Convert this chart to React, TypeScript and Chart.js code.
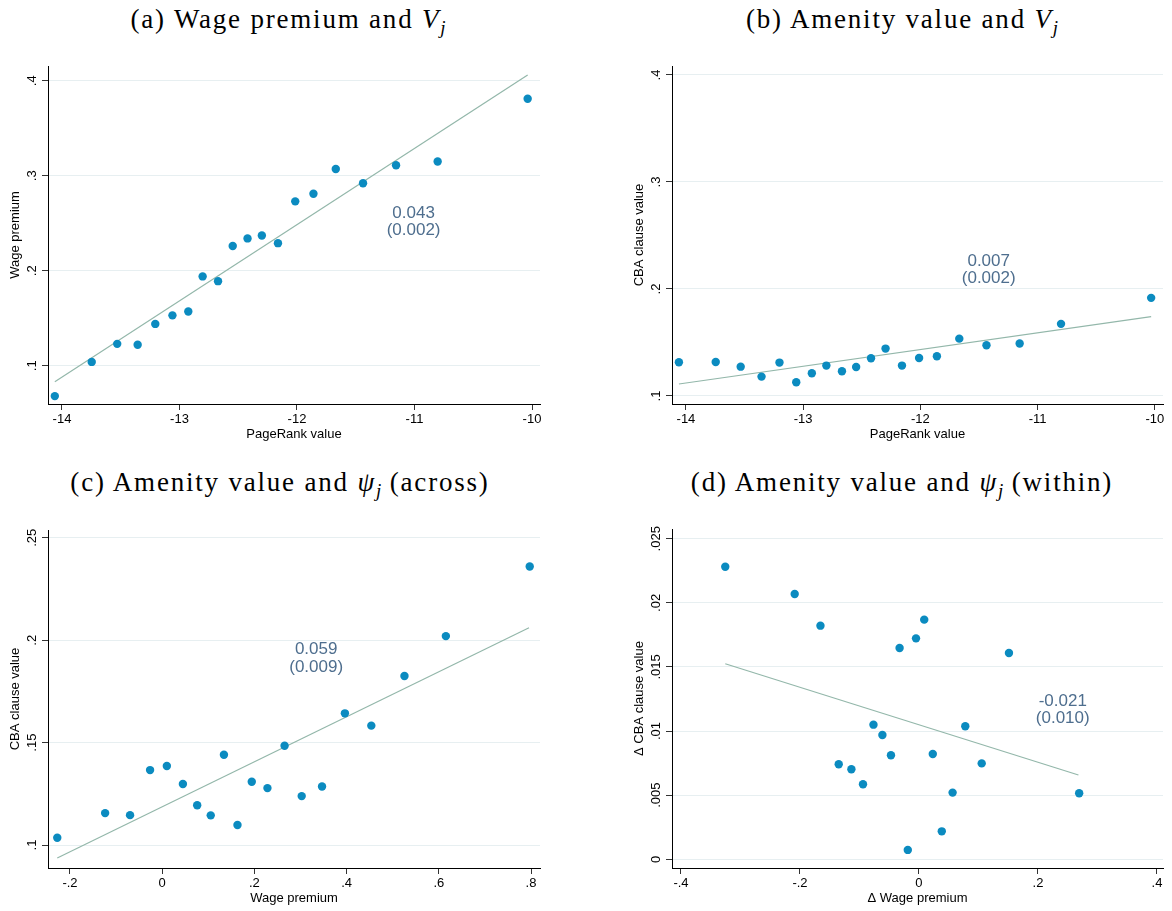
import React, { useEffect, useRef } from "react";
import { Chart, registerables } from "chart.js";
Chart.register(...registerables);

// ---------- Panel (a): Wage premium vs PageRank ----------
const aX = [-14.061, -13.747, -13.53, -13.356, -13.206, -13.06, -12.925, -12.803, -12.672, -12.547, -12.421, -12.299, -12.162, -12.015, -11.86, -11.67, -11.438, -11.157, -10.803, -10.037];
const aY = [0.068, 0.104, 0.123, 0.122, 0.144, 0.153, 0.157, 0.194, 0.189, 0.226, 0.234, 0.237, 0.229, 0.273, 0.281, 0.307, 0.292, 0.311, 0.315, 0.381];
const aFitX = [-14.061, -10.037];
const aFitY = [0.0832, 0.406];
const aXTicks = [-14, -13, -12, -11, -10];
const aXLabels = ["-14", "-13", "-12", "-11", "-10"];
const aYTicks = [0.1, 0.2, 0.3, 0.4];
const aYLabels = [".1", ".2", ".3", ".4"];
const aNote = ["0.043", "(0.002)"];
const aNoteX = -11.008;
const aNoteY = [0.2604, 0.2428];

// ---------- Panel (b): CBA clause value vs PageRank ----------
const bX = [-14.06, -13.746, -13.533, -13.355, -13.202, -13.059, -12.926, -12.802, -12.669, -12.548, -12.421, -12.297, -12.157, -12.011, -11.859, -11.668, -11.436, -11.153, -10.8, -10.031];
const bY = [0.1315, 0.1318, 0.1274, 0.1181, 0.1312, 0.1128, 0.1212, 0.1284, 0.1231, 0.1271, 0.1352, 0.1443, 0.1284, 0.1355, 0.1371, 0.1536, 0.1474, 0.149, 0.1674, 0.1917];
const bFitX = [-14.06, -10.031];
const bFitY = [0.1112, 0.1742];
const bXTicks = [-14, -13, -12, -11, -10];
const bXLabels = ["-14", "-13", "-12", "-11", "-10"];
const bYTicks = [0.1, 0.2, 0.3, 0.4];
const bYLabels = [".1", ".2", ".3", ".4"];
const bNote = ["0.007", "(0.002)"];
const bNoteX = -11.417;
const bNoteY = [0.2257, 0.2098];

// ---------- Panel (c): CBA clause value vs wage premium (across) ----------
const cX = [-0.2276, -0.1238, -0.0697, -0.0263, 0.0101, 0.0449, 0.0759, 0.1053, 0.1339, 0.1633, 0.1943, 0.2283, 0.2655, 0.3026, 0.3467, 0.3963, 0.4536, 0.5255, 0.6153, 0.7972];
const cY = [0.1036, 0.1156, 0.1146, 0.1366, 0.1386, 0.1298, 0.1194, 0.1145, 0.1441, 0.1098, 0.1309, 0.1278, 0.1485, 0.1239, 0.1286, 0.1643, 0.1583, 0.1825, 0.202, 0.236];
const cFitX = [-0.2276, 0.7957];
const cFitY = [0.0937, 0.2061];
const cXTicks = [-0.2, 0, 0.2, 0.4, 0.6, 0.8];
const cXLabels = ["-.2", "0", ".2", ".4", ".6", ".8"];
const cYTicks = [0.1, 0.15, 0.2, 0.25];
const cYLabels = [".1", ".15", ".2", ".25"];
const cNote = ["0.059", "(0.009)"];
const cNoteX = 0.334;
const cNoteY = [0.1955, 0.1867];

// ---------- Panel (d): changes (within) ----------
const dX = [-0.3256, -0.2089, -0.1656, -0.1349, -0.1136, -0.0941, -0.0765, -0.0615, -0.0471, -0.0326, -0.0188, -0.005, 0.0088, 0.0232, 0.0383, 0.0565, 0.0778, 0.1054, 0.1512, 0.2692];
const dY = [0.02282, 0.02069, 0.01822, 0.00741, 0.00702, 0.00585, 0.0105, 0.00969, 0.00811, 0.01648, 0.00073, 0.01723, 0.01869, 0.00821, 0.00218, 0.0052, 0.01037, 0.00748, 0.01609, 0.00515];
const dFitX = [-0.3256, 0.268];
const dFitY = [0.01525, 0.00657];
const dXTicks = [-0.4, -0.2, 0, 0.2, 0.4];
const dXLabels = ["-.4", "-.2", "0", ".2", ".4"];
const dYTicks = [0, 0.005, 0.01, 0.015, 0.02, 0.025];
const dYLabels = ["0", ".005", ".01", ".015", ".02", ".025"];
const dNote = ["-0.021", "(0.010)"];
const dNoteX = 0.2416;
const dNoteY = [0.01234, 0.01102];

const DOT = "#0b8bc0";
const FIT = "#93b7aa";
const NOTE = "#4e6e8e";
const GRID = "#e7eff1";
const SANS = '"Liberation Sans", Arial, sans-serif';

const Y_AXIS_W = 48;
const X_AXIS_H = 38;
const PAD_T = 10;
const PAD_R = 15;
const PAD_B = 4;

type PanelDef = {
  xs: number[]; ys: number[]; fitX: number[]; fitY: number[];
  xTicks: number[]; xLabels: string[]; yTicks: number[]; yLabels: string[];
  note: string[]; noteX: number; noteY: number[];
  xTitle: string; yTitle: string;
  xMin: number; xMax: number; yMin: number; yMax: number;
  cl: number; ct: number; cr: number; cb: number;
};

const panels: PanelDef[] = [
  { xs: aX, ys: aY, fitX: aFitX, fitY: aFitY, xTicks: aXTicks, xLabels: aXLabels, yTicks: aYTicks, yLabels: aYLabels,
    note: aNote, noteX: aNoteX, noteY: aNoteY, xTitle: "PageRank value", yTitle: "Wage premium",
    xMin: -14.119, xMax: -9.932, yMin: 0.0597, yMax: 0.4155, cl: 48, ct: 66, cr: 540, cb: 404 },
  { xs: bX, ys: bY, fitX: bFitX, fitY: bFitY, xTicks: bXTicks, xLabels: bXLabels, yTicks: bYTicks, yLabels: bYLabels,
    note: bNote, noteX: bNoteX, noteY: bNoteY, xTitle: "PageRank value", yTitle: "CBA clause value",
    xMin: -14.119, xMax: -9.93, yMin: 0.0925, yMax: 0.4084, cl: 672, ct: 66, cr: 1163, cb: 404 },
  { xs: cX, ys: cY, fitX: cFitX, fitY: cFitY, xTicks: cXTicks, xLabels: cXLabels, yTicks: cYTicks, yLabels: cYLabels,
    note: cNote, noteX: cNoteX, noteY: cNoteY, xTitle: "Wage premium", yTitle: "CBA clause value",
    xMin: -0.2477, xMax: 0.8195, yMin: 0.0888, yMax: 0.2538, cl: 48, ct: 530, cr: 540, cb: 868 },
  { xs: dX, ys: dY, fitX: dFitX, fitY: dFitY, xTicks: dXTicks, xLabels: dXLabels, yTicks: dYTicks, yLabels: dYLabels,
    note: dNote, noteX: dNoteX, noteY: dNoteY, xTitle: "Δ Wage premium", yTitle: "Δ CBA clause value",
    xMin: -0.4151, xMax: 0.4101, yMin: -0.00068, yMax: 0.02576, cl: 672, ct: 529, cr: 1163, cb: 868 },
];

function labelFor(ticks: number[], labels: string[], v: number) {
  let best = 0;
  for (let i = 1; i < ticks.length; i++) if (Math.abs(ticks[i] - v) < Math.abs(ticks[best] - v)) best = i;
  return labels[best];
}

function Panel({ p }: { p: PanelDef }) {
  const ref = useRef<HTMLCanvasElement | null>(null);
  const w = p.cr - p.cl + Y_AXIS_W + PAD_R;
  const h = p.cb - p.ct + PAD_T + X_AXIS_H + PAD_B;
  useEffect(() => {
    if (!ref.current) return;
    const overlay = {
      id: "overlay",
      afterDraw(chart: any) {
        const ctx = chart.ctx;
        const ys = chart.scales.y;
        const xs = chart.scales.x;
        const area = chart.chartArea;
        ctx.save();
        ctx.fillStyle = "#000";
        ctx.font = `13px ${SANS}`;
        ctx.textAlign = "center";
        ctx.textBaseline = "middle";
        ys.ticks.forEach((t: any) => {
          const py = ys.getPixelForValue(t.value);
          ctx.save();
          ctx.translate(area.left - 16, py);
          ctx.rotate(-Math.PI / 2);
          ctx.fillText(labelFor(p.yTicks, p.yLabels, t.value), 0, 0);
          ctx.restore();
        });
        ctx.fillStyle = NOTE;
        ctx.font = `17px ${SANS}`;
        p.note.forEach((txt, i) => {
          ctx.fillText(txt, xs.getPixelForValue(p.noteX), ys.getPixelForValue(p.noteY[i]));
        });
        ctx.restore();
      },
    };
    const chart = new Chart(ref.current, {
      type: "scatter",
      data: {
        datasets: [
          {
            type: "scatter",
            data: p.xs.map((x, i) => ({ x, y: p.ys[i] })),
            pointRadius: 4.2,
            pointBackgroundColor: DOT,
            pointBorderWidth: 0,
            order: 1,
          } as any,
          {
            type: "line",
            data: p.fitX.map((x, i) => ({ x, y: p.fitY[i] })),
            borderColor: FIT,
            borderWidth: 1.2,
            pointRadius: 0,
            fill: false,
            order: 2,
          } as any,
        ],
      },
      options: {
        animation: false,
        responsive: false,
        events: [],
        layout: { padding: { left: 0, top: PAD_T, right: PAD_R, bottom: PAD_B } },
        plugins: { legend: { display: false }, tooltip: { enabled: false }, title: { display: false } },
        scales: {
          x: {
            type: "linear",
            min: p.xMin,
            max: p.xMax,
            afterBuildTicks: (s: any) => { s.ticks = p.xTicks.map((v) => ({ value: v })); },
            afterFit: (s: any) => { s.height = X_AXIS_H; s.paddingLeft = 0; s.paddingRight = 0; },
            ticks: {
              autoSkip: false, maxRotation: 0, minRotation: 0, padding: 2,
              color: "#000", font: { family: SANS, size: 13 },
              callback: (v: any) => labelFor(p.xTicks, p.xLabels, Number(v)),
            },
            grid: { drawOnChartArea: false, drawTicks: true, tickLength: 6, tickColor: "#333", tickWidth: 1 },
            border: { display: true, color: "#000", width: 1 },
            title: { display: true, text: p.xTitle, color: "#000", font: { family: SANS, size: 13 }, padding: { top: 0, bottom: 0 } },
          },
          y: {
            type: "linear",
            min: p.yMin,
            max: p.yMax,
            afterBuildTicks: (s: any) => { s.ticks = p.yTicks.map((v) => ({ value: v })); },
            afterFit: (s: any) => { s.width = Y_AXIS_W; s.paddingTop = 0; s.paddingBottom = 0; },
            ticks: { display: false },
            grid: { drawOnChartArea: true, color: GRID, lineWidth: 1, drawTicks: true, tickLength: 6, tickColor: "#333", tickWidth: 1 },
            border: { display: true, color: "#000", width: 1 },
            title: { display: true, text: p.yTitle, color: "#000", font: { family: SANS, size: 13 }, padding: { top: 8, bottom: 0 } },
          },
        },
      },
      plugins: [overlay],
    } as any);
    return () => chart.destroy();
  }, []);
  return (
    <canvas
      ref={ref}
      width={w}
      height={h}
      style={{ position: "absolute", left: p.cl - Y_AXIS_W, top: p.ct - PAD_T, width: w, height: h }}
    />
  );
}

const titleStyle = (cx: number, top: number): React.CSSProperties => ({
  position: "absolute",
  left: cx - 280,
  top,
  width: 560,
  textAlign: "center",
  fontFamily: '"Liberation Serif", "Times New Roman", serif',
  fontSize: 27,
  letterSpacing: "1.8px",
  lineHeight: "30px",
  color: "#000",
  whiteSpace: "nowrap",
});

const sub: React.CSSProperties = { fontSize: "0.7em", position: "relative", top: "0.3em", fontStyle: "italic", letterSpacing: 0 };

export default function App() {
  return (
    <div style={{ position: "absolute", left: 0, top: 0, width: 1172, height: 911, background: "#fff", overflow: "hidden" }}>
      <div style={titleStyle(288, 4)}>(a) Wage premium and <i>V</i><span style={sub}>j</span></div>
      <div style={titleStyle(902, 4)}>(b) Amenity value and <i>V</i><span style={sub}>j</span></div>
      <div style={titleStyle(280, 467)}>(c) Amenity value and <i>ψ</i><span style={sub}>j</span> (across)</div>
      <div style={titleStyle(902, 467)}>(d) Amenity value and <i>ψ</i><span style={sub}>j</span> (within)</div>
      {panels.map((p, i) => (
        <Panel key={i} p={p} />
      ))}
    </div>
  );
}
